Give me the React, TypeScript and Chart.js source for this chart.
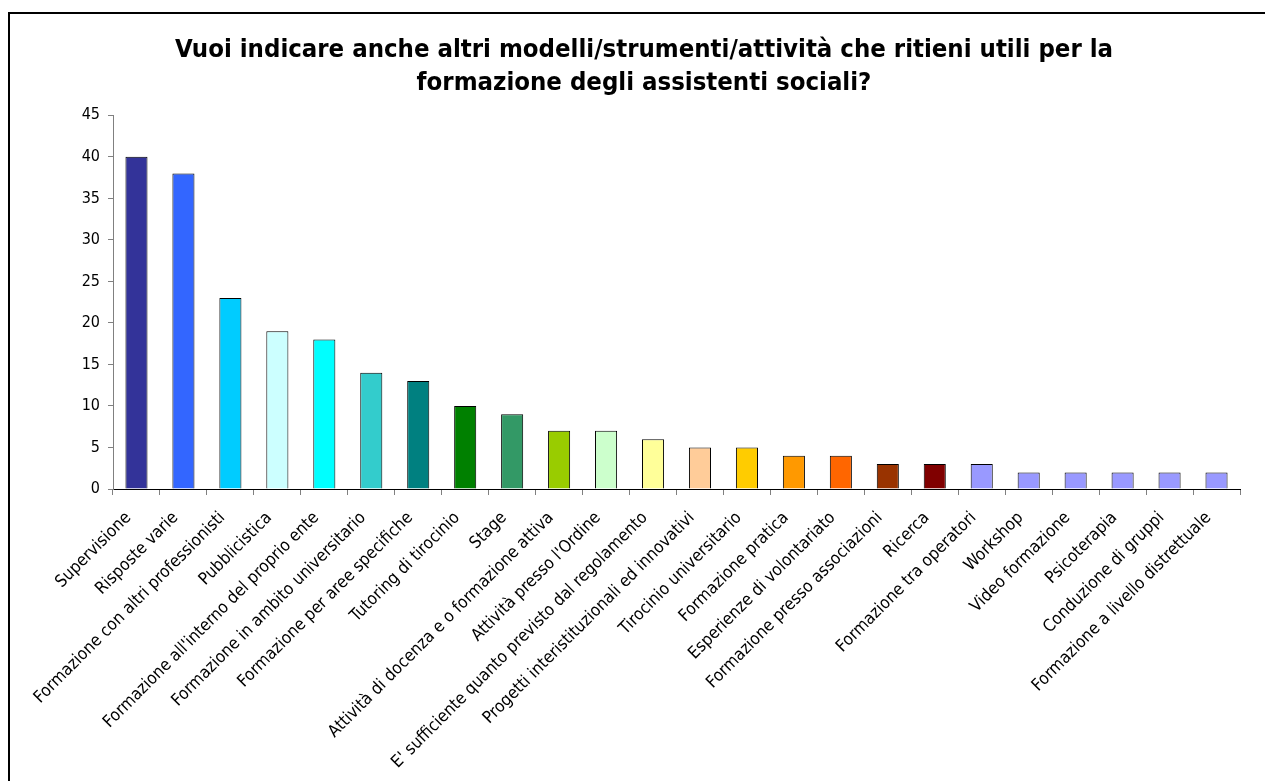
import React, { useEffect, useRef } from "react";
import { Chart, registerables } from "chart.js";

Chart.register(...registerables);

const TITLE_LINES = [
  "Vuoi indicare anche altri modelli/strumenti/attività che ritieni utili per la",
  "formazione degli assistenti sociali?",
];

const CATEGORIES = [
  "Supervisione",
  "Risposte varie",
  "Formazione con altri professionisti",
  "Pubblicistica",
  "Formazione all'interno del proprio ente",
  "Formazione in ambito universitario",
  "Formazione per aree specifiche",
  "Tutoring di tirocinio",
  "Stage",
  "Attività di docenza e o formazione attiva",
  "Attività presso l'Ordine",
  "E' sufficiente quanto previsto dal regolamento",
  "Progetti interistituzionali ed innovativi",
  "Tirocinio universitario",
  "Formazione pratica",
  "Esperienze di volontariato",
  "Formazione presso associazioni",
  "Ricerca",
  "Formazione tra operatori",
  "Workshop",
  "Video formazione",
  "Psicoterapia",
  "Conduzione di gruppi",
  "Formazione a livello distrettuale",
];

const COUNTS = [40, 38, 23, 19, 18, 14, 13, 10, 9, 7, 7, 6, 5, 5, 4, 4, 3, 3, 3, 2, 2, 2, 2, 2];

const BAR_COLORS = [
  "#333399", "#3366FF", "#00CCFF", "#CCFFFF", "#00FFFF", "#33CCCC",
  "#008080", "#008000", "#339966", "#99CC00", "#CCFFCC", "#FFFF99",
  "#FFCC99", "#FFCC00", "#FF9900", "#FF6600", "#993300", "#800000",
  "#9999FF", "#9999FF", "#9999FF", "#9999FF", "#9999FF", "#9999FF",
];

const Y_MIN = 0;
const Y_MAX = 45;
const Y_STEP = 5;

const FONT_FAMILY = "'DejaVu Sans Condensed', 'DejaVu Sans', sans-serif";

export default function App() {
  const canvasRef = useRef<HTMLCanvasElement | null>(null);

  useEffect(() => {
    const canvas = canvasRef.current;
    if (!canvas) return;
    const chart = new Chart(canvas, {
      type: "bar",
      data: {
        labels: CATEGORIES,
        datasets: [
          {
            data: COUNTS,
            backgroundColor: BAR_COLORS,
            borderColor: "#000000",
            borderWidth: 1,
            barPercentage: 0.47,
            categoryPercentage: 1,
          },
        ],
      },
      options: {
        animation: false,
        responsive: false,
        maintainAspectRatio: false,
        devicePixelRatio: 1,
        layout: { padding: { top: 0, right: 25, bottom: 0, left: 38 } },
        plugins: {
          legend: { display: false },
          tooltip: { enabled: false },
          title: {
            display: true,
            text: TITLE_LINES,
            color: "#000000",
            font: { family: FONT_FAMILY, size: 25.5, weight: "bold", lineHeight: 1.3 },
            padding: { top: 20, bottom: 15 },
          },
        },
        scales: {
          x: {
            type: "category",
            offset: true,
            grid: {
              display: true,
              offset: true,
              drawOnChartArea: false,
              drawTicks: true,
              tickLength: 6,
              color: "#808080",
            },
            border: { display: true, color: "#000000", width: 1 },
            ticks: {
              autoSkip: false,
              maxRotation: 45,
              minRotation: 45,
              color: "#000000",
              padding: 13,
              labelOffset: -8,
              font: { family: FONT_FAMILY, size: 17 },
            },
            afterFit: (scale: any) => {
              scale.height = 292;
            },
          },
          y: {
            min: Y_MIN,
            max: Y_MAX,
            grid: {
              display: true,
              drawOnChartArea: false,
              drawTicks: true,
              tickLength: 5,
              color: "#808080",
            },
            border: { display: true, color: "#808080", width: 1 },
            ticks: {
              stepSize: Y_STEP,
              color: "#000000",
              padding: 8,
              font: { family: FONT_FAMILY, size: 16 },
            },
            afterFit: (scale: any) => {
              scale.width = 65;
            },
          },
        },
      },
    });
    return () => chart.destroy();
  }, []);

  return (
    <div
      style={{
        position: "fixed",
        left: 8,
        top: 12,
        width: 1257,
        height: 769,
        boxSizing: "border-box",
        borderTop: "2px solid #000",
        borderLeft: "2px solid #000",
        background: "#fff",
      }}
    >
      <canvas ref={canvasRef} width={1255} height={767} style={{ display: "block" }} />
    </div>
  );
}
